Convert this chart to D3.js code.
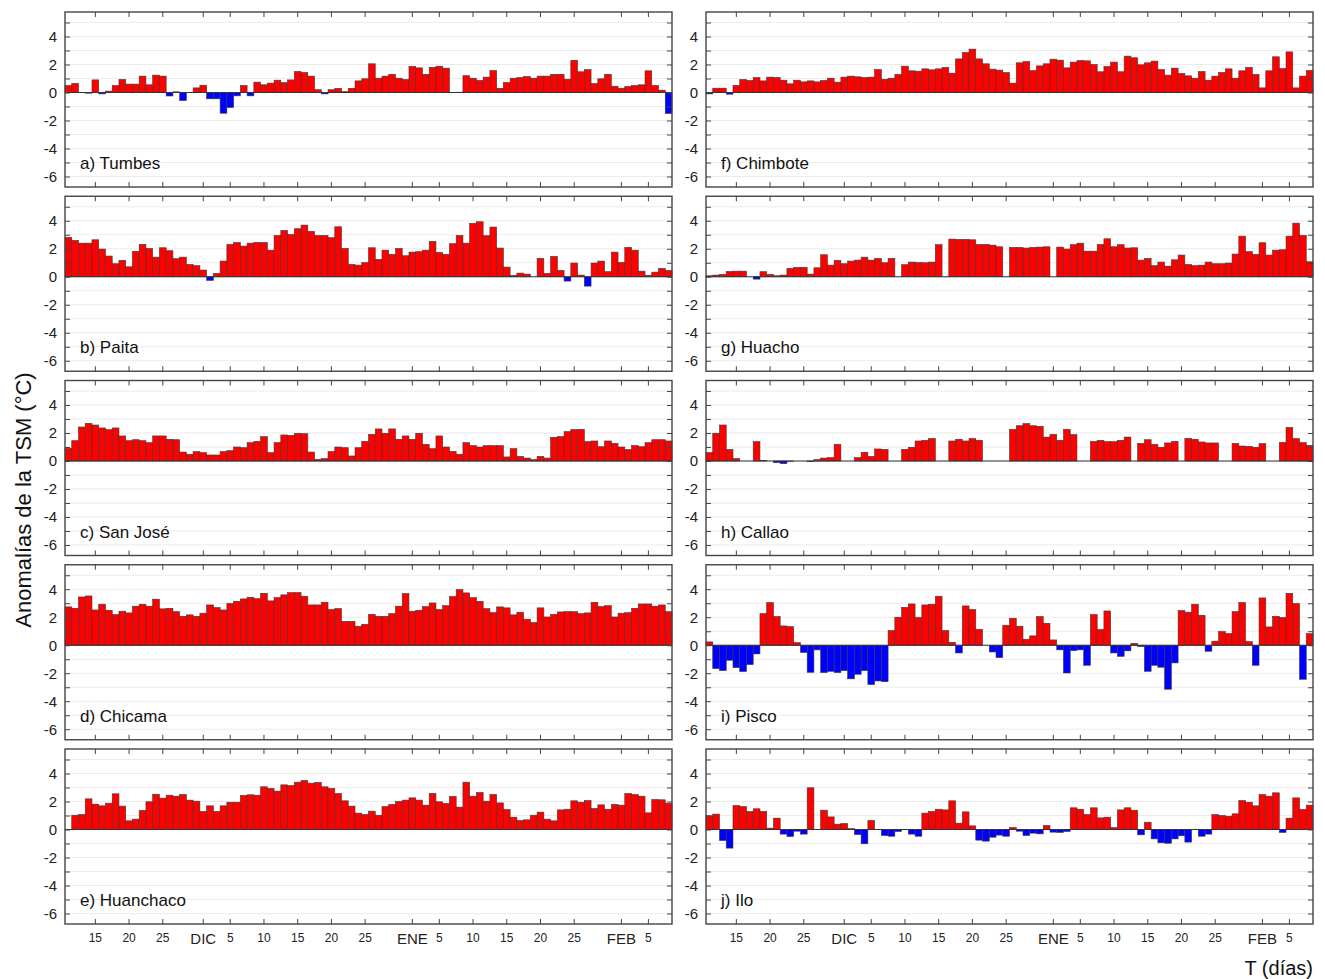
<!DOCTYPE html>
<html>
<head>
<meta charset="utf-8">
<script src="https://cdn.jsdelivr.net/npm/d3@7/dist/d3.min.js"></script>
<style>
  body { margin: 0; background: #fff; }
  svg { font-family: Arial, "Liberation Sans", sans-serif; }
</style>
</head>
<body>
<svg id="chart" width="1325" height="979"></svg>
<script>
// dias: 11 nov 2015 .. 8 feb 2016 (90 dias)
var days = d3.timeDay.range(new Date(2015, 10, 11), new Date(2016, 1, 9)).map(d3.timeFormat("%Y-%m-%d"));

var tickDays = ["2015-11-15", "2015-11-20", "2015-11-25", "2015-12-01", "2015-12-05", "2015-12-10",
  "2015-12-15", "2015-12-20", "2015-12-25", "2016-01-01", "2016-01-05", "2016-01-10",
  "2016-01-15", "2016-01-20", "2016-01-25", "2016-02-01", "2016-02-05"];
var tickLabels = ["15", "20", "25", "DIC", "5", "10", "15", "20", "25", "ENE", "5", "10", "15", "20", "25", "FEB", "5"];
var monthLabels = ["DIC", "ENE", "FEB"];

var stations = ["a) Tumbes", "b) Paita", "c) San José", "d) Chicama", "e) Huanchaco",
  "f) Chimbote", "g) Huacho", "h) Callao", "i) Pisco", "j) Ilo"];

var tumbes = [0.5, 0.65, null, -0.05, 0.9, -0.1, 0.1, 0.5, 0.93, 0.6,
  0.6, 1.17, 0.55, 1.24, 1.17, -0.25, 0.05, -0.57, null, 0.33,
  0.52, -0.45, -0.45, -1.48, -1.07, -0.24, 0.5, -0.24, 0.74, 0.55,
  0.67, 0.88, 0.7, 0.9, 1.5, 1.43, 1.17, 0.2, -0.1, 0.2,
  0.3, 0.07, 0.3, 0.83, 0.98, 2.05, 1.02, 1.17, 1.3, 1.02,
  0.93, 1.86, 1.76, 1.3, 1.8, 1.88, 1.74, null, 0.02, 1.2,
  1.02, 0.86, 1.1, 1.57, 0.3, 0.71, 1.02, 1.07, 1.14, 1.02,
  1.17, 1.17, 1.3, 1.3, 0.95, 2.3, 1.48, 1.64, 0.64, 0.98,
  1.3, 0.45, 0.31, 0.43, 0.5, 0.55, 1.55, 0.5, 0.17, -1.5];

var paita = [2.81, 2.6, 2.4, 2.4, 2.64, 1.98, 1.48, 0.93, 1.17, 0.71,
  1.81, 2.31, 2.02, 1.4, 2.07, 1.86, 1.29, 1.4, 0.88, 0.79,
  0.48, -0.26, 0.24, 1.12, 2.31, 2.45, 2.19, 2.4, 2.45, 2.45,
  1.9, 2.95, 3.31, 3.02, 3.43, 3.69, 3.24, 2.95, 2.95, 2.79,
  3.57, 2.02, 0.88, 0.83, 1.02, 2.07, 1.24, 1.9, 1.6, 2.02,
  1.5, 1.76, 1.79, 1.9, 2.52, 1.74, 1.6, 2.36, 2.95, 2.4,
  3.81, 3.93, 2.93, 3.55, 2.05, 0.69, 0.1, 0.26, 0.19, null,
  1.31, 0.24, 1.45, 0.45, -0.31, 0.98, 0.12, -0.67, 0.98, 1.12,
  0.36, 1.76, 1.02, 2.1, 1.9, 0.4, 0.1, 0.33, 0.6, 0.45];

var sanJose = [0.9, 1.45, 2.43, 2.69, 2.57, 2.36, 2.24, 2.36, 1.79, 1.45,
  1.52, 1.45, 1.31, 1.79, 1.79, 1.55, 1.52, 0.64, 0.48, 0.67,
  0.6, 0.43, 0.43, 0.67, 0.74, 1.0, 0.95, 1.31, 1.4, 1.74,
  0.6, 1.31, 1.86, 1.83, 1.98, 1.95, 0.64, 0.12, 0.17, 0.67,
  1.0, 0.95, 0.36, 0.95, 1.4, 1.9, 2.29, 1.98, 2.29, 1.55,
  1.79, 1.55, 1.98, 1.19, 0.88, 1.79, 1.0, 0.69, 0.48, 1.31,
  1.1, 1.0, 1.1, 1.1, 1.1, 0.29, 0.88, 0.33, 0.21, 0.1,
  0.33, 0.21, 1.69, 1.74, 2.1, 2.24, 2.26, 1.38, 1.43, 1.02,
  1.43, 1.26, 1.0, 0.83, 1.1, 1.02, 1.31, 1.52, 1.52, 1.43];

var chicama = [2.74, 2.64, 3.45, 3.52, 2.52, 2.93, 2.5, 2.19, 2.43, 2.31,
  2.79, 2.93, 2.79, 3.29, 2.6, 2.64, 2.4, 2.07, 2.17, 2.07,
  2.29, 2.88, 2.69, 2.52, 2.98, 3.14, 3.31, 3.43, 3.33, 3.71,
  3.17, 3.4, 3.6, 3.76, 3.76, 3.5, 2.88, 2.88, 3.07, 2.55,
  2.62, 1.71, 1.71, 1.36, 1.5, 2.21, 2.07, 2.07, 2.26, 2.79,
  3.69, 2.43, 2.5, 2.76, 3.02, 2.55, 2.83, 3.48, 3.98, 3.74,
  3.4, 3.14, 2.62, 2.33, 2.74, 2.67, 2.17, 2.36, 1.86, 1.62,
  2.67, 2.02, 2.21, 2.38, 2.4, 2.4, 2.26, 2.31, 3.07, 2.76,
  2.83, 2.02, 2.29, 2.33, 2.64, 2.95, 2.95, 2.79, 2.88, 2.4];

var huanchaco = [null, 1.02, 1.07, 2.19, 1.81, 1.69, 1.88, 2.55, 1.67, 0.62,
  0.74, 1.36, 1.98, 2.52, 2.24, 2.45, 2.38, 2.5, 2.1, 2.02,
  1.29, 1.69, 1.29, 1.69, 1.95, 1.95, 2.43, 2.48, 2.45, 3.05,
  2.93, 2.74, 3.19, 3.14, 3.38, 3.5, 3.31, 3.36, 3.05, 2.93,
  2.57, 2.05, 1.67, 1.17, 1.07, 1.31, 1.02, 1.64, 1.79, 2.0,
  2.1, 2.26, 2.1, 1.74, 2.57, 1.98, 1.86, 2.36, 1.6, 3.38,
  2.38, 2.64, 2.02, 2.5, 1.9, 1.43, 0.88, 0.64, 0.69, 1.02,
  1.24, 0.74, 0.62, 1.4, 1.45, 2.05, 1.95, 2.07, 1.5, 1.76,
  1.45, 1.79, 1.74, 2.57, 2.5, 2.38, 1.19, 2.14, 2.12, 1.88];

var chimbote = [-0.1, 0.31, 0.31, -0.12, 0.5, 0.93, 0.86, 1.07, 0.83, 1.1,
  1.07, 0.88, 0.62, 0.88, 0.76, 0.83, 0.76, 0.86, 1.02, 0.74,
  1.1, 1.17, 1.12, 1.07, 1.1, 1.64, 0.95, 1.02, 1.29, 1.88,
  1.55, 1.52, 1.69, 1.62, 1.69, 1.79, 1.38, 2.4, 2.86, 3.1,
  2.4, 2.05, 1.67, 1.6, 1.43, 0.67, 2.12, 2.21, 1.57, 1.9,
  2.05, 2.38, 2.31, 1.76, 2.17, 2.29, 2.26, 2.0, 1.48, 1.86,
  2.17, 1.48, 2.6, 2.48, 1.98, 2.12, 2.24, 1.64, 1.24, 1.74,
  1.36, 1.19, 1.02, 1.5, 0.88, 1.17, 1.43, 1.69, 1.02, 1.55,
  1.79, 1.29, 0.33, 1.55, 2.55, 1.71, 2.9, 0.33, 1.17, 1.57];

var huacho = [0.07, 0.12, 0.17, 0.38, 0.4, 0.4, null, -0.17, 0.36, 0.17,
  0.07, 0.12, 0.6, 0.67, 0.67, 0.19, 0.64, 1.57, 0.83, 1.17,
  0.93, 1.12, 1.19, 1.4, 1.19, 1.31, 1.0, 1.31, null, 0.86,
  1.05, 1.02, 1.0, 1.05, 2.29, null, 2.69, 2.67, 2.67, 2.64,
  2.31, 2.31, 2.26, 2.14, null, 2.1, 2.1, 2.05, 2.1, 2.12,
  2.14, null, 2.12, 1.98, 2.29, 2.4, 1.83, 1.83, 2.31, 2.71,
  2.14, 2.29, 2.05, 2.07, 1.19, 1.31, 0.79, 1.05, 0.76, 1.21,
  1.55, 0.88, 0.79, 0.83, 1.05, 0.93, 0.93, 0.98, 1.62, 2.9,
  1.79, 1.6, 2.43, 1.55, 1.9, 1.93, 2.9, 3.83, 2.95, 1.07];

var callao = [0.6, 1.98, 2.57, 0.83, 0.17, null, null, 1.38, 0.05, null,
  -0.12, -0.19, -0.02, null, null, -0.05, 0.1, 0.21, 0.24, 1.19,
  null, null, 0.24, 0.62, 0.33, 0.86, 0.83, null, null, 0.83,
  0.98, 1.43, 1.48, 1.6, null, null, 1.43, 1.55, 1.43, 1.6,
  1.48, null, null, null, null, 2.26, 2.52, 2.67, 2.52, 2.48,
  1.71, 1.9, 1.48, 2.26, 1.88, null, null, 1.4, 1.48, 1.38,
  1.38, 1.48, 1.71, null, 1.26, 1.52, 1.19, 0.98, 1.29, 1.4,
  null, 1.62, 1.55, 1.36, 1.29, 1.29, null, null, 1.26, 1.07,
  1.05, 0.98, 1.24, null, null, 1.33, 2.4, 1.6, 1.31, 1.12];

var pisco = [0.24, -1.67, -1.81, -1.07, -1.6, -1.88, -1.38, -0.62, 2.26, 3.05,
  2.05, 1.38, 1.33, 0.19, -0.52, -1.93, -0.33, -1.95, -1.86, -1.95,
  -1.81, -2.4, -2.07, -1.81, -2.81, -2.55, -2.6, 1.05, 2.0, 2.71,
  2.95, 1.98, 2.88, 2.93, 3.5, 1.05, 0.21, -0.55, 2.81, 2.55,
  1.14, null, -0.48, -0.88, 1.43, 1.93, 1.36, 0.43, 0.67, 2.05,
  1.57, 0.38, -0.33, -1.98, -0.38, -0.33, -1.43, 2.19, 1.12, 2.45,
  -0.55, -0.79, -0.4, 0.14, -0.1, -1.86, -1.43, -1.57, -3.14, -1.26,
  2.48, 2.36, 2.93, 2.14, -0.43, 0.29, 0.98, 0.83, 2.4, 3.05,
  0.26, -1.43, 3.38, 1.31, 2.07, 1.98, 3.71, 2.98, -2.43, 0.83];

var ilo = [0.98, 1.1, -0.79, -1.33, 1.71, 1.64, 1.29, 1.48, 1.29, 0.1,
  0.81, -0.33, -0.5, -0.12, -0.33, 2.98, null, 1.38, 0.9, 0.38,
  0.43, 0.07, -0.36, -1.02, 0.64, null, -0.43, -0.48, -0.14, null,
  -0.33, -0.48, 1.17, 1.29, 1.45, 1.4, 2.05, 0.45, 1.26, 0.26,
  -0.76, -0.83, -0.55, -0.4, -0.48, 0.14, -0.12, -0.43, -0.26, -0.31,
  0.29, -0.19, -0.21, -0.14, 1.55, 1.45, 1.07, 1.55, 0.83, 0.88,
  0.14, 1.4, 1.55, 1.38, -0.38, 0.52, -0.67, -0.95, -0.98, -0.67,
  -0.45, -0.9, null, -0.48, -0.33, 1.07, 1.0, 0.95, 1.12, 2.07,
  1.95, 1.69, 2.5, 2.38, 2.62, -0.21, 0.81, 2.26, 1.43, 1.74];

var series = [tumbes, paita, sanJose, chicama, huanchaco, chimbote, huacho, callao, pisco, ilo];

var cfg = {
  colX: [65, 706],
  rowY: [12, 196.25, 380.5, 564.75, 749],
  width: 607,
  height: 175
};

var svg = d3.select("#chart");

var x = d3.scaleBand().domain(days).range([0, cfg.width]).padding(0);
var y = d3.scaleLinear().domain([-6.75, 5.75]).range([cfg.height, 0]);

var labelOf = function(d) {
  return tickLabels[tickDays.indexOf(d)];
};

var drawPanel = function(g, values, name, isBottom) {
  // lineas de grilla
  g.selectAll("line.grid")
    .data(d3.range(-6, 6))
    .enter().append("line")
    .attr("class", "grid")
    .attr("x1", 0)
    .attr("x2", cfg.width)
    .attr("y1", function(d) { return y(d); })
    .attr("y2", function(d) { return y(d); })
    .attr("stroke", "#ebebeb")
    .attr("stroke-width", 1);

  var data = values.map(function(v, i) { return { day: days[i], v: v }; })
    .filter(function(d) { return d.v !== null; });

  g.selectAll("rect.bar")
    .data(data)
    .enter().append("rect")
    .attr("class", "bar")
    .attr("x", function(d) { return x(d.day); })
    .attr("width", x.bandwidth())
    .attr("y", function(d) { return y(Math.max(0, d.v)); })
    .attr("height", function(d) { return Math.abs(y(d.v) - y(0)); })
    .attr("fill", function(d) { return d.v >= 0 ? "#ff0000" : "#0000ff"; })
    .attr("stroke", "#3a3a3a")
    .attr("stroke-width", 0.6);

  g.append("line")
    .attr("x1", 0)
    .attr("x2", cfg.width)
    .attr("y1", y(0))
    .attr("y2", y(0))
    .attr("stroke", "#333")
    .attr("stroke-width", 1);

  // ejes
  var left = g.append("g")
    .call(d3.axisLeft(y).tickValues(d3.range(-6, 6)).tickSize(-5).tickPadding(8)
      .tickFormat(function(d) { return d % 2 === 0 ? d : ""; }));
  g.append("g")
    .attr("transform", "translate(" + cfg.width + ",0)")
    .call(d3.axisRight(y).tickValues(d3.range(-6, 6)).tickSize(-5).tickFormat(""));
  g.append("g")
    .call(d3.axisTop(x).tickValues(tickDays).tickSize(-5).tickFormat(""));
  var bottom = g.append("g")
    .attr("transform", "translate(0," + cfg.height + ")")
    .call(d3.axisBottom(x).tickValues(tickDays).tickSize(-5).tickPadding(9)
      .tickFormat(isBottom ? labelOf : ""));

  left.selectAll("text").attr("font-size", 15).attr("fill", "#222");
  bottom.selectAll("text")
    .attr("fill", "#222")
    .attr("font-size", function(d) { return monthLabels.indexOf(labelOf(d)) >= 0 ? 15 : 12; });

  g.selectAll(".domain").remove();
  g.selectAll(".tick line").attr("stroke", "#444").attr("stroke-width", 1);

  g.append("rect")
    .attr("width", cfg.width)
    .attr("height", cfg.height)
    .attr("fill", "none")
    .attr("stroke", "#444")
    .attr("stroke-width", 1.4);

  g.append("text")
    .attr("x", 15)
    .attr("y", 157)
    .attr("font-size", 17)
    .attr("fill", "#111")
    .text(name);
};

series.forEach(function(values, i) {
  var col = Math.floor(i / 5);
  var row = i % 5;
  var g = svg.append("g")
    .attr("transform", "translate(" + cfg.colX[col] + "," + cfg.rowY[row] + ")");
  drawPanel(g, values, stations[i], row === 4);
});

svg.append("text")
  .attr("transform", "translate(31,500) rotate(-90)")
  .attr("text-anchor", "middle")
  .attr("font-size", 22)
  .attr("fill", "#111")
  .text("Anomalías de la TSM (°C)");

svg.append("text")
  .attr("x", 1313)
  .attr("y", 975)
  .attr("text-anchor", "end")
  .attr("font-size", 20)
  .attr("fill", "#111")
  .text("T (días)");
</script>
</body>
</html>
